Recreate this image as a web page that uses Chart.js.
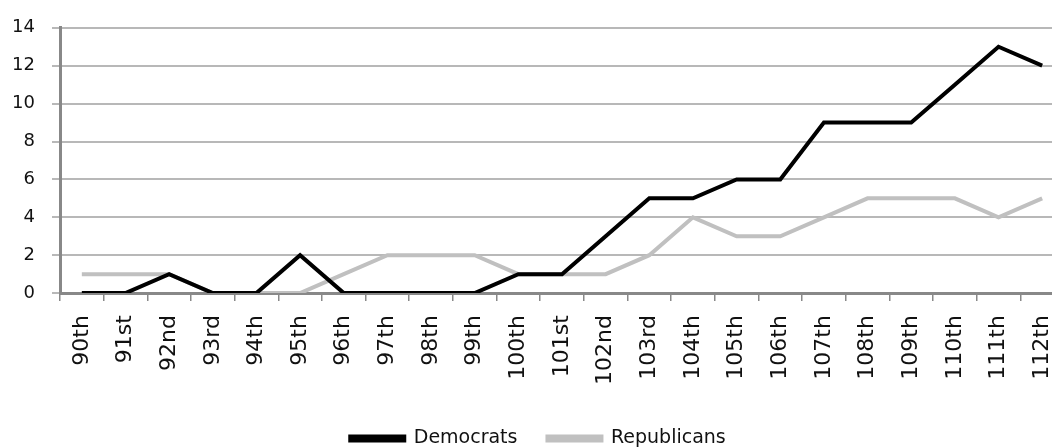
<!DOCTYPE html>
<html>
<head>
<script src="https://cdn.jsdelivr.net/npm/chart.js@4.4.0/dist/chart.umd.min.js"></script>
<style>
  html, body { margin: 0; padding: 0; background: #fff; overflow: hidden; }
  .frame { position: relative; width: 1052px; height: 448px; overflow: hidden; }
  #chart { position: absolute; left: 0; top: 0; }
</style>
</head>
<body>
<div class="frame"><canvas id="chart" width="1064" height="458"></canvas></div>
<script>
  const congresses = ['90th','91st','92nd','93rd','94th','95th','96th','97th','98th','99th','100th','101st',
                      '102nd','103rd','104th','105th','106th','107th','108th','109th','110th','111th','112th'];
  const democrats   = [0,0,1,0,0,2,0,0,0,0,1,1,3,5,5,6,6,9,9,9,11,13,12];
  const republicans = [1,1,1,0,0,0,1,2,2,2,1,1,1,2,4,3,3,4,5,5,5,4,5];
  const yTicks = [0,2,4,6,8,10,12,14];

  Chart.defaults.font.family = "'DejaVu Sans', sans-serif";
  Chart.defaults.color = '#1a1a2a';

  new Chart(document.getElementById('chart'), {
    type: 'line',
    data: {
      labels: congresses,
      datasets: [
        { label: 'Democrats', data: democrats, borderColor: '#000', backgroundColor: '#000',
          borderWidth: 4, pointRadius: 0, tension: 0 },
        { label: 'Republicans', data: republicans, borderColor: '#c0c0c0', backgroundColor: '#c0c0c0',
          borderWidth: 4, pointRadius: 0, tension: 0 }
      ]
    },
    options: {
      responsive: false,
      animation: false,
      layout: { padding: { top: 24, left: 12, right: 0, bottom: 0 } },
      plugins: {
        tooltip: { enabled: false },
        legend: {
          position: 'bottom',
          labels: { boxWidth: 54, boxHeight: 4, padding: 30, font: { size: 19 }, color: '#111' }
        }
      },
      scales: {
        x: {
          offset: true,
          afterFit: (s) => { s.paddingLeft = 0; s.paddingRight = 0; },
          grid: { offset: true, drawOnChartArea: false, color: '#888', tickLength: 8, lineWidth: 1.5 },
          border: { color: '#888', width: 3 },
          ticks: { minRotation: 90, maxRotation: 90, font: { size: 22 }, color: '#111', padding: 14 }
        },
        y: {
          min: 0, max: 14,
          afterBuildTicks: (axis) => { axis.ticks = yTicks.map(v => ({ value: v })); },
          afterFit: (s) => { s.width = 48; },
          grid: { color: '#b8b8b8', lineWidth: 2, tickLength: 8 },
          border: { color: '#888', width: 3 },
          ticks: { font: { size: 18 }, color: '#111', padding: 17 }
        }
      }
    }
  });
</script>
</body>
</html>
